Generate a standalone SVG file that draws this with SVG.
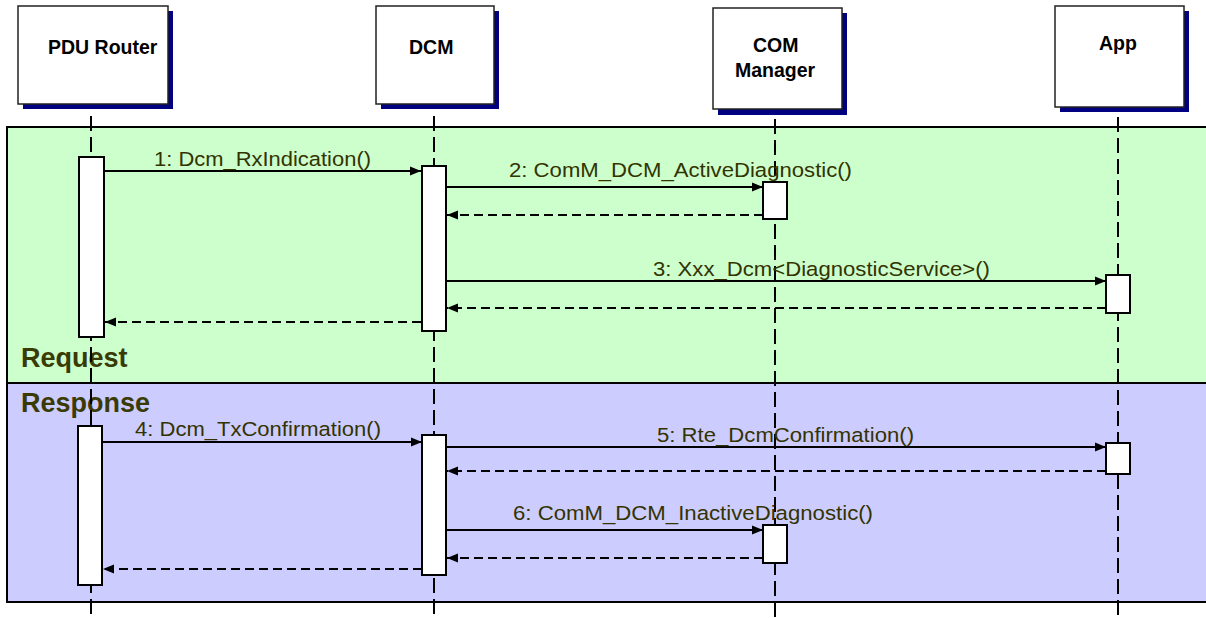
<svg xmlns="http://www.w3.org/2000/svg" width="1206" height="618" viewBox="0 0 1206 618">
<defs>
<style>
.box{fill:#fff;stroke:#222;stroke-width:1.5}
.shadow{fill:#000080}
.actor{font-family:"Liberation Sans",Arial,sans-serif;font-weight:bold;font-size:19.5px;fill:#000}
.life{stroke:#000;stroke-width:2;stroke-dasharray:15 6;fill:none}
.act{fill:#fff;stroke:#000;stroke-width:2}
.msg{stroke:#000;stroke-width:2;fill:none}
.ret{stroke:#000;stroke-width:2;stroke-dasharray:9 5;fill:none}
.lbl{font-family:"Liberation Sans",Arial,sans-serif;font-size:20.5px;fill:#333300}
.sec{font-family:"Liberation Sans",Arial,sans-serif;font-weight:bold;font-size:27px;fill:#3a3a05}
</style>
<marker id="arr" viewBox="0 0 11 10" refX="11" refY="5" markerWidth="11" markerHeight="10" markerUnits="userSpaceOnUse" orient="auto">
<path d="M0,0.5 L11,5 L0,9.5 Z" fill="#000"/>
</marker>
</defs>

<g id="frames">
<rect x="7" y="127" width="1210" height="256" fill="#ccffcc" stroke="#000" stroke-width="2"/>
<rect x="7" y="383" width="1210" height="219" fill="#ccccff" stroke="#000" stroke-width="2"/>
<text class="sec" x="21" y="367">Request</text>
<text class="sec" x="21" y="412">Response</text>
</g>

<g id="lifelines">
<line class="life" x1="91" y1="116" x2="91" y2="618"/>
<line class="life" x1="434" y1="116" x2="434" y2="618"/>
<line class="life" x1="775" y1="119" x2="775" y2="618"/>
<line class="life" x1="1118" y1="117" x2="1118" y2="618"/>
</g>

<g id="pdu-router">
<rect class="shadow" x="23" y="11" width="150" height="98"/>
<rect class="box" x="18" y="6" width="150" height="98"/>
<text class="actor" x="48" y="54">PDU Router</text>
<rect class="act" x="79" y="157" width="25" height="180"/>
<rect class="act" x="78" y="426" width="24" height="159"/>
</g>

<g id="dcm">
<rect class="shadow" x="381" y="11" width="118" height="98"/>
<rect class="box" x="376" y="6" width="118" height="98"/>
<text class="actor" x="409" y="54">DCM</text>
<rect class="act" x="422" y="166" width="24" height="165"/>
<rect class="act" x="422" y="435" width="24" height="140"/>
</g>

<g id="com-manager">
<rect class="shadow" x="718" y="13" width="129" height="102"/>
<rect class="box" x="713" y="8" width="129" height="101"/>
<text class="actor" x="753" y="52">COM</text>
<text class="actor" x="735" y="77">Manager</text>
<rect class="act" x="763" y="182" width="24" height="37"/>
<rect class="act" x="763" y="525" width="24" height="38"/>
</g>

<g id="app">
<rect class="shadow" x="1060" y="11" width="129" height="101"/>
<rect class="box" x="1055" y="6" width="129" height="101"/>
<text class="actor" x="1099" y="50">App</text>
<rect class="act" x="1106" y="275" width="24" height="38"/>
<rect class="act" x="1106" y="443" width="24" height="31"/>
</g>

<g id="connectors">
<line class="msg" x1="104" y1="171" x2="421" y2="171" marker-end="url(#arr)"/>
<text class="lbl" x="154" y="166" textLength="217" lengthAdjust="spacingAndGlyphs">1: Dcm_RxIndication()</text>
<line class="msg" x1="446" y1="187" x2="763" y2="187" marker-end="url(#arr)"/>
<text class="lbl" x="509" y="177" textLength="343" lengthAdjust="spacingAndGlyphs">2: ComM_DCM_ActiveDiagnostic()</text>
<line class="ret" x1="763" y1="215" x2="447" y2="215" marker-end="url(#arr)"/>
<line class="msg" x1="446" y1="281" x2="1106" y2="281" marker-end="url(#arr)"/>
<text class="lbl" x="653" y="276" textLength="337" lengthAdjust="spacingAndGlyphs">3: Xxx_Dcm&lt;DiagnosticService&gt;()</text>
<line class="ret" x1="1106" y1="308" x2="447" y2="308" marker-end="url(#arr)"/>
<line class="ret" x1="421" y1="322" x2="105" y2="322" marker-end="url(#arr)"/>

<line class="msg" x1="102" y1="442" x2="422" y2="442" marker-end="url(#arr)"/>
<text class="lbl" x="135" y="436" textLength="246" lengthAdjust="spacingAndGlyphs">4: Dcm_TxConfirmation()</text>
<line class="msg" x1="446" y1="447" x2="1106" y2="447" marker-end="url(#arr)"/>
<text class="lbl" x="657" y="442" textLength="257" lengthAdjust="spacingAndGlyphs">5: Rte_DcmConfirmation()</text>
<line class="ret" x1="1106" y1="471" x2="447" y2="471" marker-end="url(#arr)"/>
<line class="msg" x1="446" y1="530" x2="763" y2="530" marker-end="url(#arr)"/>
<text class="lbl" x="513" y="520" textLength="360" lengthAdjust="spacingAndGlyphs">6: ComM_DCM_InactiveDiagnostic()</text>
<line class="ret" x1="763" y1="558" x2="447" y2="558" marker-end="url(#arr)"/>
<line class="ret" x1="422" y1="569" x2="103" y2="569" marker-end="url(#arr)"/>
</g>
</svg>
